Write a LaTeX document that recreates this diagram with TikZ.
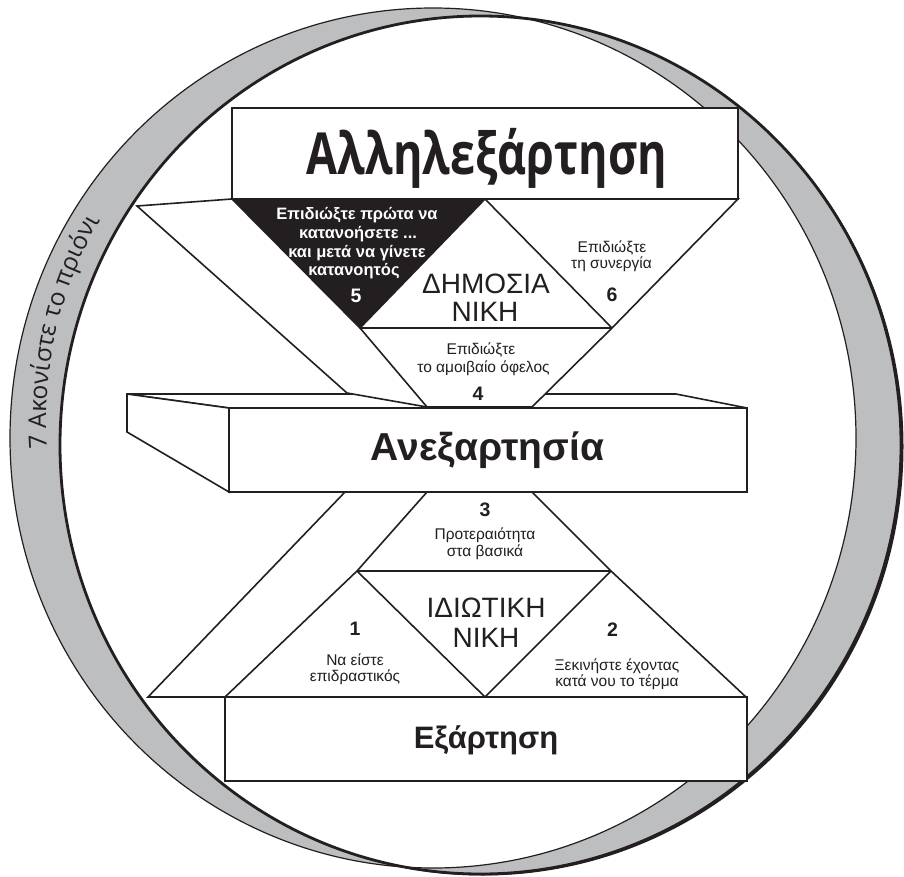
\documentclass[tikz,border=0pt]{standalone}
\usepackage{fontspec}
\usepackage{graphicx}
\setmainfont{Liberation Sans}
\newfontfamily\osans{Open Sans}
\usetikzlibrary{decorations.text}
\definecolor{ringgray}{HTML}{BCBEC0}
\definecolor{inkblack}{HTML}{231F20}
\tikzset{
  ln/.style={draw=inkblack, line width=1.6pt},
  facest/.style={draw=inkblack, line width=1.6pt, fill=white},
  boxst/.style={draw=inkblack, line width=2pt, fill=white},
  lab/.style={inner sep=0pt, anchor=base, text=inkblack, font=\fontsize{15.5}{18}\selectfont},
  num/.style={inner sep=0pt, anchor=base, text=inkblack, font=\fontsize{19.5}{22}\selectfont\bfseries},
  wlab/.style={inner sep=0pt, anchor=base, text=white, font=\fontsize{16.5}{19}\selectfont\bfseries},
  wnum/.style={inner sep=0pt, anchor=base, text=white, font=\fontsize{19.5}{22}\selectfont\bfseries},
  win/.style={inner sep=0pt, anchor=base, text=inkblack, font=\fontsize{28}{30}\selectfont},
  title/.style={inner sep=0pt, anchor=base, text=inkblack},
}
\begin{document}
\begin{tikzpicture}[x=1pt,y=-1pt]
\useasboundingbox (0,0) rectangle (904,877);
\fill[white] (0,0) rectangle (904,877);

% ---- ring ----
\fill[inkblack] (483,446.5) ellipse [x radius=420.5, y radius=429];
\fill[white] (480.5,445) ellipse [x radius=420.5, y radius=429];
\fill[ringgray, even odd rule] (433,438) ellipse [x radius=423, y radius=430]
                               (480.5,445) ellipse [x radius=420.5, y radius=429];
\draw[inkblack, line width=1.2pt] (433,438) ellipse [x radius=423, y radius=430];
\draw[inkblack, line width=2.8pt] (480.5,445) ellipse [x radius=420.5, y radius=429];

\path[decorate, decoration={text along path, text align=left,
   text={|\osans\fontsize{24.6}{26}\selectfont\color{inkblack}|7 Ακονίστε το πριόνι}}]
   (47.0,448.9) arc[start angle=176, end angle=215, radius=400];

% ---- coordinates ----
\coordinate (U1) at (137,206);
\coordinate (U2) at (232,199);
\coordinate (M)  at (485,199);
\coordinate (U3) at (738,199);
\coordinate (U4) at (612,328);
\coordinate (U5) at (532,407);
\coordinate (U6) at (427,407);
\coordinate (U7) at (347,393);
\coordinate (K)  at (360,328);

\coordinate (D1) at (127,394);
\coordinate (D2) at (676,394);
\coordinate (D3) at (747,408);
\coordinate (D4) at (229,408);
\coordinate (D5) at (229,492);
\coordinate (D6) at (127,432);
\coordinate (D7) at (747,492);

\coordinate (L1) at (345,492);
\coordinate (L6) at (427,492);
\coordinate (L2) at (532,492);
\coordinate (L3) at (611,571);
\coordinate (L4) at (746,697);
\coordinate (L9) at (485,697);
\coordinate (L8) at (225,697);
\coordinate (L5) at (148,697);
\coordinate (L7) at (357,571);

% ---- 3D box top and side faces ----
\path[facest] (D1) -- (D2) -- (D3) -- (D4) -- cycle;
\path[facest] (D1) -- (D4) -- (D5) -- (D6) -- cycle;

% ---- upper wedge ----
\path[facest] (U1) -- (U2) -- (U3) -- (U4) -- (U5) -- (U6) -- (U7) -- cycle;
\path[facest, fill=inkblack] (U2) -- (M) -- (K) -- cycle;
\draw[ln] (K) -- (U6);
\draw[ln] (M) -- (U4);
\draw[ln] (K) -- (U4);

% ---- boxes ----
\path[boxst] (232,108) rectangle (738,199);
\path[boxst] (D4) rectangle (D7);

% ---- lower wedge ----
\path[facest] (L1) -- (L2) -- (L3) -- (L4) -- (L5) -- cycle;
\draw[ln] (L6) -- (L7) -- (L8);
\draw[ln] (L7) -- (L3);
\draw[ln] (L7) -- (L9) -- (L3);
\path[boxst] (225,697) rectangle (747,781);

% ---- texts ----
\node[title, font=\osans\bfseries\fontsize{58}{60}\selectfont] (tInter) at (487,175) {\scalebox{0.775}[1]{Αλληλεξάρτηση}};

\node[wlab] (w1) at (357,220) {Επιδιώξτε πρώτα να};
\node[wlab] (w2) at (358,239) {κατανοήσετε ...};
\node[wlab] (w3) at (357,257.5) {και μετά να γίνετε};
\node[wlab] (w4) at (354,276) {κατανοητός};
\node[wnum] (n5) at (356,302) {5};

\node[win] (pub1) at (486,293) {ΔΗΜΟΣΙΑ};
\node[win] (pub2) at (485,321) {ΝΙΚΗ};

\node[lab] (s6a) at (612,252) {Επιδιώξτε};
\node[lab] (s6b) at (611.5,269) {τη συνεργία};
\node[num] (n6) at (612,301) {6};

\node[lab] (s4a) at (481,354) {Επιδιώξτε};
\node[lab] (s4b) at (483.5,372.7) {το αμοιβαίο όφελος};
\node[num] (n4) at (478,400.7) {4};

\node[title, font=\fontsize{39}{40}\selectfont\bfseries] (tIndep) at (487.5,460) {Ανεξαρτησία};

\node[num] (n3) at (485,516) {3};
\node[lab] (s3a) at (485,539) {Προτεραιότητα};
\node[lab] (s3b) at (485,556) {στα βασικά};

\node[win] (priv1) at (486,617) {ΙΔΙΩΤΙΚΗ};
\node[win] (priv2) at (486,647) {ΝΙΚΗ};

\node[num] (n1) at (355,635) {1};
\node[lab] (s1a) at (355,665) {Να είστε};
\node[lab] (s1b) at (355,681) {επιδραστικός};

\node[num] (n2) at (612.6,636.7) {2};
\node[lab] (s2a) at (617,670) {Ξεκινήστε έχοντας};
\node[lab] (s2b) at (617,686) {κατά νου το τέρμα};

\node[title, font=\fontsize{31}{33}\selectfont\bfseries] (tDep) at (486,748) {Εξάρτηση};
\end{tikzpicture}
\end{document}
